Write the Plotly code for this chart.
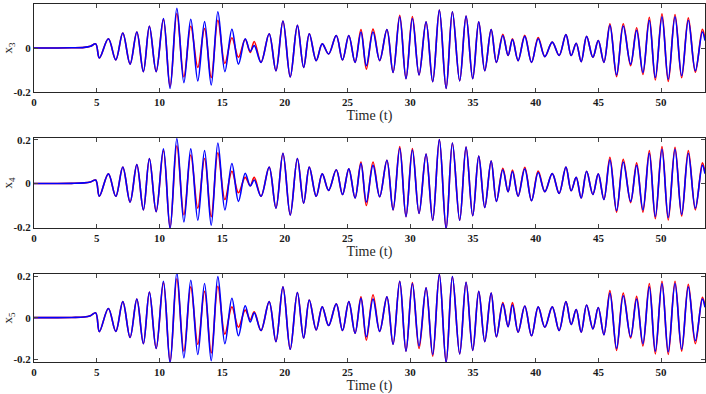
import plotly.graph_objects as go
from plotly.subplots import make_subplots

# time of each turning point (shared by the three panels)
t_pts = [0, 3.0, 4.0, 4.5, 4.92, 5.21, 5.93, 6.52, 7.08, 7.66,
         8.2, 8.72, 9.2, 9.74, 10.32, 10.85, 11.39, 11.95, 12.5, 13.06,
         13.6, 14.13, 14.66, 15.22, 15.78, 16.3, 16.84, 17.24, 17.56, 18.1,
         18.75, 19.29, 19.85, 20.43, 21.0, 21.5, 21.95, 22.5, 22.98, 23.49,
         24.1, 24.6, 25.1, 25.6, 26.07, 26.5, 27.03, 27.56, 28.14, 28.63,
         29.16, 29.66, 30.17, 30.7, 31.26, 31.79, 32.32, 32.86, 33.36, 33.94,
         34.45, 34.98, 35.46, 35.94, 36.45, 36.87, 37.38, 37.8, 38.15, 38.6,
         39.13, 39.67, 40.2, 40.73, 41.32, 41.87, 42.41, 42.83, 43.23, 43.63,
         44.06, 44.56, 44.99, 45.44, 45.92, 46.45, 46.98, 47.57, 48.05, 48.55,
         49.06, 49.54, 50.07, 50.57, 51.11, 51.64, 52.17, 52.73, 53.29, 53.5]

x3_blue = [0, 0.001, 0.003, 0.008, 0.019, -0.045, 0.042, -0.054, 0.068, -0.073,
           0.073, -0.107, 0.099, -0.107, 0.134, -0.183, 0.18, -0.157, 0.131, -0.149,
           0.12, -0.168, 0.165, -0.107, 0.085, -0.073, 0.042, -0.015, 0.011, -0.065,
           0.065, -0.103, 0.123, -0.131, 0.103, -0.088, 0.065, -0.057, 0.019, -0.027,
           0.057, -0.054, 0.057, -0.065, 0.073, -0.08, 0.073, -0.057, 0.084, -0.111,
           0.142, -0.139, 0.134, -0.122, 0.119, -0.153, 0.172, -0.183, 0.165, -0.149,
           0.145, -0.139, 0.119, -0.103, 0.084, -0.065, 0.057, -0.034, 0.038, -0.057,
           0.053, -0.065, 0.042, -0.039, 0.027, -0.034, 0.061, -0.034, 0.022, -0.062,
           0.053, -0.042, 0.034, -0.065, 0.103, -0.122, 0.1, -0.073, 0.08, -0.111,
           0.126, -0.134, 0.142, -0.142, 0.142, -0.126, 0.126, -0.103, 0.073, 0.034]
x3_red = [0, 0.001, 0.003, 0.008, 0.019, -0.045, 0.042, -0.054, 0.068, -0.073,
          0.073, -0.107, 0.099, -0.107, 0.13, -0.175, 0.157, -0.131, 0.099, -0.088,
          0.088, -0.134, 0.126, -0.07, 0.047, -0.042, 0.04, -0.02, 0.03, -0.065,
          0.065, -0.103, 0.123, -0.131, 0.103, -0.088, 0.065, -0.057, 0.019, -0.027,
          0.057, -0.054, 0.057, -0.065, 0.084, -0.096, 0.086, -0.057, 0.084, -0.111,
          0.149, -0.139, 0.143, -0.122, 0.119, -0.153, 0.172, -0.183, 0.165, -0.149,
          0.145, -0.139, 0.119, -0.103, 0.084, -0.065, 0.062, -0.034, 0.042, -0.057,
          0.058, -0.065, 0.048, -0.039, 0.027, -0.034, 0.061, -0.034, 0.022, -0.062,
          0.053, -0.042, 0.034, -0.065, 0.11, -0.13, 0.11, -0.08, 0.092, -0.12,
          0.14, -0.145, 0.155, -0.152, 0.152, -0.135, 0.137, -0.11, 0.085, 0.04]

x4_blue = [0, 0.001, 0.003, 0.007, 0.016, -0.058, 0.044, -0.058, 0.075, -0.084,
           0.086, -0.12, 0.114, -0.128, 0.158, -0.206, 0.205, -0.175, 0.158, -0.167,
           0.15, -0.19, 0.185, -0.12, 0.091, -0.081, 0.047, -0.011, 0.016, -0.058,
           0.075, -0.112, 0.138, -0.143, 0.114, -0.089, 0.075, -0.058, 0.044, -0.031,
           0.063, -0.05, 0.067, -0.066, 0.091, -0.084, 0.083, -0.06, 0.106, -0.12,
           0.161, -0.151, 0.153, -0.136, 0.134, -0.167, 0.2, -0.206, 0.185, -0.167,
           0.166, -0.147, 0.125, -0.109, 0.103, -0.081, 0.063, -0.037, 0.055, -0.058,
           0.067, -0.078, 0.05, -0.037, 0.045, -0.045, 0.075, -0.033, 0.028, -0.066,
           0.056, -0.05, 0.044, -0.073, 0.108, -0.123, 0.098, -0.081, 0.083, -0.12,
           0.138, -0.151, 0.156, -0.155, 0.156, -0.14, 0.138, -0.112, 0.083, 0.045]
x4_red = [0, 0.001, 0.003, 0.007, 0.016, -0.058, 0.044, -0.058, 0.075, -0.084,
          0.086, -0.12, 0.114, -0.128, 0.15, -0.2, 0.172, -0.143, 0.13, -0.112,
          0.114, -0.151, 0.14, -0.073, 0.056, -0.042, 0.028, -0.01, 0.028, -0.058,
          0.075, -0.112, 0.138, -0.143, 0.114, -0.089, 0.075, -0.058, 0.044, -0.031,
          0.063, -0.05, 0.067, -0.066, 0.098, -0.1, 0.098, -0.06, 0.106, -0.12,
          0.168, -0.151, 0.16, -0.136, 0.134, -0.167, 0.2, -0.206, 0.185, -0.167,
          0.166, -0.147, 0.125, -0.109, 0.103, -0.081, 0.07, -0.037, 0.062, -0.058,
          0.074, -0.078, 0.057, -0.037, 0.045, -0.045, 0.075, -0.033, 0.028, -0.066,
          0.056, -0.05, 0.044, -0.073, 0.12, -0.13, 0.11, -0.087, 0.094, -0.13,
          0.15, -0.16, 0.168, -0.166, 0.165, -0.148, 0.15, -0.12, 0.094, 0.05]

x5_blue = [0, 0.001, 0.003, 0.009, 0.023, -0.067, 0.044, -0.066, 0.077, -0.095,
           0.089, -0.125, 0.123, -0.148, 0.175, -0.218, 0.216, -0.193, 0.18, -0.177,
           0.164, -0.207, 0.197, -0.125, 0.093, -0.087, 0.057, -0.021, 0.023, -0.062,
           0.077, -0.115, 0.148, -0.152, 0.121, -0.098, 0.085, -0.059, 0.052, -0.038,
           0.066, -0.062, 0.077, -0.075, 0.093, -0.092, 0.089, -0.066, 0.1, -0.128,
           0.175, -0.161, 0.164, -0.136, 0.143, -0.177, 0.208, -0.215, 0.197, -0.174,
           0.17, -0.157, 0.126, -0.115, 0.118, -0.092, 0.066, -0.043, 0.061, -0.07,
           0.056, -0.087, 0.052, -0.046, 0.052, -0.062, 0.077, -0.033, 0.039, -0.07,
           0.061, -0.054, 0.049, -0.082, 0.118, -0.148, 0.105, -0.092, 0.089, -0.125,
           0.148, -0.161, 0.164, -0.164, 0.164, -0.152, 0.148, -0.111, 0.089, 0.05]
x5_red = [0, 0.001, 0.003, 0.009, 0.023, -0.067, 0.044, -0.066, 0.077, -0.095,
          0.089, -0.125, 0.123, -0.148, 0.168, -0.21, 0.187, -0.161, 0.148, -0.128,
          0.126, -0.169, 0.151, -0.079, 0.052, -0.046, 0.036, -0.01, 0.028, -0.062,
          0.077, -0.115, 0.148, -0.152, 0.121, -0.098, 0.085, -0.059, 0.052, -0.038,
          0.066, -0.062, 0.077, -0.075, 0.1, -0.108, 0.11, -0.066, 0.1, -0.128,
          0.175, -0.161, 0.168, -0.148, 0.143, -0.185, 0.208, -0.215, 0.197, -0.174,
          0.17, -0.157, 0.126, -0.115, 0.118, -0.092, 0.072, -0.043, 0.072, -0.07,
          0.056, -0.087, 0.052, -0.046, 0.052, -0.062, 0.077, -0.033, 0.039, -0.07,
          0.061, -0.054, 0.049, -0.082, 0.13, -0.157, 0.118, -0.098, 0.102, -0.136,
          0.164, -0.174, 0.175, -0.177, 0.175, -0.161, 0.16, -0.125, 0.098, 0.055]

panels = [("x<sub>3</sub>", x3_red, x3_blue, [-0.2, 0.2]),
          ("x<sub>4</sub>", x4_red, x4_blue, [-0.203, 0.208]),
          ("x<sub>5</sub>", x5_red, x5_blue, [-0.213, 0.21])]
domains = [[0.754, 1.0], [0.374, 0.626], [0.0, 0.246]]

fig = make_subplots(rows=3, cols=1)
serif = "Liberation Serif"

for i, (lab, red, blue, yr) in enumerate(panels):
    r = i + 1
    fig.add_trace(go.Scatter(x=t_pts, y=red, mode="lines",
                             line=dict(color="#ff0000", width=1.6, shape="spline", smoothing=1.0),
                             showlegend=False), row=r, col=1)
    fig.add_trace(go.Scatter(x=t_pts, y=blue, mode="lines",
                             line=dict(color="#0000ff", width=1.6, shape="spline", smoothing=1.0),
                             showlegend=False), row=r, col=1)
    fig.update_xaxes(range=[0, 53.5], dtick=5, tick0=0, ticks="inside", ticklen=4,
                     showline=True, mirror="ticks", linecolor="#262626", linewidth=1,
                     showgrid=False, zeroline=False, automargin=False,
                     tickfont=dict(family=serif, size=11, color="#1a1a1a", weight="bold"),
                     title=dict(text="Time (t)", standoff=2,
                                font=dict(family=serif, size=14, color="#262626")),
                     domain=[0, 1], row=r, col=1)
    fig.update_yaxes(range=yr, tickvals=[-0.2, 0, 0.2], ticktext=["-0.2", "0", "0.2"],
                     ticks="inside", ticklen=4,
                     showline=True, mirror="ticks", linecolor="#262626", linewidth=1,
                     showgrid=False, zeroline=False, automargin=False,
                     tickfont=dict(family=serif, size=11, color="#1a1a1a", weight="bold"),
                     title=dict(text=lab, standoff=0,
                                font=dict(family=serif, size=13, color="#262626")),
                     domain=domains[i], row=r, col=1)

fig.update_layout(width=706, height=394, margin=dict(l=34, r=1, t=4, b=32),
                  plot_bgcolor="white", paper_bgcolor="white")
fig.write_html("out.html", config={"displayModeBar": False},
               post_script="document.body.style.margin='0';document.body.style.overflow='hidden';")
